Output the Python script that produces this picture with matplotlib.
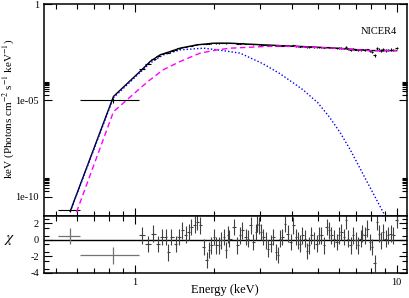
import numpy as np
import matplotlib
matplotlib.use("Agg")
from matplotlib import pyplot as plt
from matplotlib.ticker import FixedLocator, FixedFormatter, NullFormatter

plt.rcParams['font.family'] = ['Liberation Serif', 'DejaVu Serif']
plt.rcParams['mathtext.fontset'] = 'stix'

# ---- wide low-energy bins (lo, centre, hi) ----
wide_lo = [0.51, 0.617]
wide_e = [0.567, 0.829]
wide_hi = [0.617, 1.038]
wide_flux = [2.0e-11, 1.0e-5]
wide_ferr = [0.4e-11, 0.27e-5]
wide_chi = [0.5, -1.85]

# ---- dense bins ----
energy = [1.069, 1.124, 1.178, 1.224, 1.271, 1.317, 1.340, 1.380, 1.434, 1.476,
          1.519, 1.565, 1.612, 1.644, 1.694, 1.734, 1.775, 1.838, 1.883, 1.921,
          1.961, 2.008, 2.049, 2.098, 2.141, 2.192, 2.222, 2.261, 2.291, 2.393,
          2.464, 2.523, 2.574, 2.653, 2.707, 2.772, 2.836, 2.896, 2.937, 2.982,
          3.043, 3.097, 3.162, 3.227, 3.304, 3.381, 3.453, 3.524, 3.587, 3.660,
          3.738, 3.847, 3.939, 4.031, 4.117, 4.201, 4.275, 4.362, 4.456, 4.535,
          4.627, 4.721, 4.835, 4.951, 5.052, 5.155, 5.279, 5.405, 5.515, 5.628,
          5.763, 5.902, 6.022, 6.144, 6.293, 6.387, 6.517, 6.674, 6.829, 6.974,
          7.117, 7.288, 7.391, 7.549, 7.723, 7.908, 8.070, 8.241, 8.388, 8.559,
          8.734, 8.888, 9.079, 9.264, 9.487, 9.705, 10.0]

flux = [4.19e-4, 8.12e-4, 1.37e-3, 1.90e-3, 2.52e-3, 2.94e-3, 3.04e-3, 3.60e-3, 4.23e-3, 4.96e-3,
        5.54e-3, 5.90e-3, 6.45e-3, 6.85e-3, 7.48e-3, 7.99e-3, 8.12e-3, 8.18e-3, 8.11e-3, 8.61e-3,
        8.94e-3, 9.37e-3, 9.09e-3, 9.09e-3, 9.26e-3, 9.37e-3, 8.93e-3, 9.45e-3, 9.32e-3, 9.49e-3,
        8.69e-3, 8.88e-3, 8.93e-3, 8.51e-3, 8.36e-3, 8.56e-3, 7.97e-3, 8.17e-3, 8.31e-3, 8.16e-3,
        7.88e-3, 7.65e-3, 7.47e-3, 7.16e-3, 7.20e-3, 7.29e-3, 6.82e-3, 6.66e-3, 7.00e-3, 6.96e-3,
        7.20e-3, 6.83e-3, 6.51e-3, 7.05e-3, 6.53e-3, 6.32e-3, 6.11e-3, 6.35e-3, 6.16e-3, 5.63e-3,
        5.78e-3, 6.06e-3, 5.81e-3, 5.59e-3, 5.81e-3, 5.74e-3, 5.30e-3, 5.84e-3, 5.67e-3, 5.45e-3,
        5.21e-3, 5.05e-3, 5.29e-3, 5.40e-3, 4.98e-3, 5.85e-3, 4.72e-3, 4.24e-3, 4.68e-3, 4.30e-3,
        3.98e-3, 4.22e-3, 4.38e-3, 4.26e-3, 4.46e-3, 3.75e-3, 3.36e-3, 2.20e-3, 5.08e-3, 4.28e-3,
        3.82e-3, 4.39e-3, 3.93e-3, 4.16e-3, 4.28e-3, 4.16e-3, 5.22e-3]

chi = [0.56, -0.5, 0.76, -0.5, 0.36, 0.36, -1.5, 0.36, -0.5, 0.36,
       1.16, 0.64, 0.96, 1.56, 1.84, 2.16, 1.76, -0.84, -2.44, -1.24,
       -0.64, 0.36, -0.64, -0.64, -0.04, 0.36, -1.24, 0.64, 0.16, 1.56,
       -0.64, 0.56, 1.16, 0.36, 0.16, 1.76, -0.24, 0.96, 1.96, 1.76,
       0.96, 0.36, -0.04, -1.04, -0.44, 0.36, -1.44, -1.84, 0.16, 0.36,
       1.96, 0.76, -0.24, 1.76, 0.36, -0.04, -0.44, 0.56, 0.16, -1.36,
       -0.64, 0.56, -0.04, -0.44, 0.56, 0.56, -0.64, 1.56, 1.16, 0.56,
       0.16, -0.24, 0.56, 0.96, 0.36, 2.36, 0.16, -0.64, 0.56, -0.04,
       -0.64, 0.16, 0.76, 0.56, 1.36, -0.24, -0.84, -2.84, 2.16, 0.76,
       -0.04, 0.96, 0.16, 0.56, 0.76, 0.56, 2.4]

# relative flux error by energy band
err_band_edges = [1.0, 2.0, 4.0, 6.0, 8.0, 11.0]
err_band_frac = [0.02, 0.03, 0.05, 0.10, 0.15]

# ---- model curves ----
tot_e = [0.567, 0.829, 1.069, 1.144, 1.249, 1.364, 1.489, 1.724, 1.991, 2.15,
         2.311, 2.7, 3.09, 4.387, 5.91, 7.91, 10.0]
tot_f = [1.8e-11, 1.6e-5, 4.14e-4, 1.04e-3, 2.30e-3, 3.41e-3, 5.10e-3, 7.57e-3, 9.2e-3, 9.35e-3,
         9.25e-3, 8.3e-3, 7.6e-3, 6.18e-3, 5.10e-3, 3.84e-3, 3.84e-3]

pl_e = [0.567, 0.829, 1.069, 1.144, 1.283, 1.489, 1.775, 2.069, 2.311, 3.09,
        3.59, 4.387, 5.91, 7.91, 10.0]
pl_f = [2.1e-12, 2.59e-6, 5.4e-5, 1.17e-4, 3.85e-4, 1.04e-3, 2.82e-3, 4.17e-3, 5.10e-3, 6.18e-3,
        6.72e-3, 5.97e-3, 4.99e-3, 3.79e-3, 3.79e-3]

disk_e = [0.567, 0.829, 1.069, 1.144, 1.283, 1.489, 1.829, 2.069, 2.525, 3.09,
          3.59, 4.387, 5.0, 5.56, 6.1, 6.64, 7.1, 7.55, 8.0, 8.48, 9.0, 9.41]
disk_f = [1.7e-11, 1.37e-5, 3.63e-4, 8.55e-4, 2.30e-3, 4.17e-3, 5.10e-3, 4.17e-3, 2.82e-3, 7.87e-4,
          2.39e-4, 3.56e-5, 7.5e-6, 1.26e-6, 2.0e-7, 2.8e-8, 5.0e-9, 1.0e-9, 2.3e-10, 5.1e-11,
          1.1e-11, 4.2e-12]

W, H = 409, 298
fig = plt.figure(figsize=(W / 100, H / 100), dpi=100)
L, R = 44 / W, 407 / W
ax = fig.add_axes([L, 1 - 216 / H, R - L, (216 - 4) / H])
axr = fig.add_axes([L, 1 - 273 / H, R - L, (273 - 216) / H], sharex=ax)

e = np.array(energy)
mid = np.sqrt(e[:-1] * e[1:])
lo = np.concatenate([[wide_hi[-1]], mid])
hi = np.concatenate([mid, [e[-1] * e[-1] / mid[-1]]])
frac = np.array(err_band_frac)[np.searchsorted(err_band_edges, e) - 1]
f = np.array(flux)

# top panel
ax.plot(tot_e, tot_f, color='black', lw=1.0, zorder=2)
ax.plot(disk_e, disk_f, color='blue', lw=1.0, ls=(0, (1, 1.5)), zorder=3)
ax.plot(pl_e, pl_f, color='magenta', lw=1.0, ls=(0, (4, 2.5)), zorder=4)
ax.errorbar(e, f, xerr=[e - lo, hi - e], yerr=f * frac, fmt='none',
            ecolor='black', elinewidth=0.8, zorder=3)
we = np.array(wide_e)
ax.errorbar(we, wide_flux, xerr=[we - np.array(wide_lo), np.array(wide_hi) - we],
            yerr=wide_ferr, fmt='none', ecolor='black', elinewidth=0.8, zorder=3)
ax.text(0.972, 0.868, 'NICER4', transform=ax.transAxes, ha='right', va='center', fontsize=7.5)

ax.set_xscale('log')
ax.set_yscale('log')
ax.set_xlim(0.45, 10.95)
ax.set_ylim(1e-11, 1)
ax.yaxis.set_major_locator(FixedLocator([1e-10, 1e-5, 1]))
ax.yaxis.set_major_formatter(FixedFormatter(['1e-10', '1e-05', '1']))
ax.yaxis.set_minor_locator(FixedLocator([k * 1e-5 for k in range(2, 10)] + [k * 1e-10 for k in range(2, 10)]))
ax.yaxis.set_minor_formatter(NullFormatter())

xmaj = [1, 10]
xmin = [0.5, 0.6, 0.7, 0.8, 0.9] + list(range(2, 10))
for a in (ax, axr):
    a.xaxis.set_major_locator(FixedLocator(xmaj))
    a.xaxis.set_minor_locator(FixedLocator(xmin))
    a.tick_params(which='both', direction='in', top=True, right=True, labelsize=7.5, width=0.8)
    a.tick_params(which='major', length=6)
    a.tick_params(which='minor', length=3.5)
    for s in a.spines.values():
        s.set_linewidth(1.1)
ax.tick_params(labelbottom=False)
axr.xaxis.set_major_formatter(FixedFormatter(['1', '10']))
axr.xaxis.set_minor_formatter(NullFormatter())

# residual panel
axr.axhline(0, color='black', lw=1.0, zorder=1)
axr.errorbar(e, chi, xerr=[e - lo, hi - e], yerr=1.0, fmt='none',
             ecolor='0.25', elinewidth=0.8, zorder=2)
axr.errorbar(we, wide_chi, xerr=[we - np.array(wide_lo), np.array(wide_hi) - we],
             yerr=1.0, fmt='none', ecolor='0.45', elinewidth=0.9, zorder=2)
axr.set_ylim(-4, 2.9)
axr.yaxis.set_major_locator(FixedLocator([-4, -2, 0, 2]))
axr.yaxis.set_major_formatter(FixedFormatter(['-4', '-2', '0', '2']))
axr.yaxis.set_minor_locator(FixedLocator(np.arange(-3.5, 3.0, 1.0)))

fig.text(8 / W, 1 - 109 / H, 'keV (Photons cm$^{-2}$ s$^{-1}$ keV$^{-1}$)',
         rotation=90, ha='center', va='center', fontsize=8)
fig.text(10 / W, 1 - 240 / H, r'$\chi$', ha='center', va='center', fontsize=11)
fig.text(225 / W, 1 - 290 / H, 'Energy (keV)', ha='center', va='center', fontsize=9)

fig.savefig('out.png', dpi=100)
